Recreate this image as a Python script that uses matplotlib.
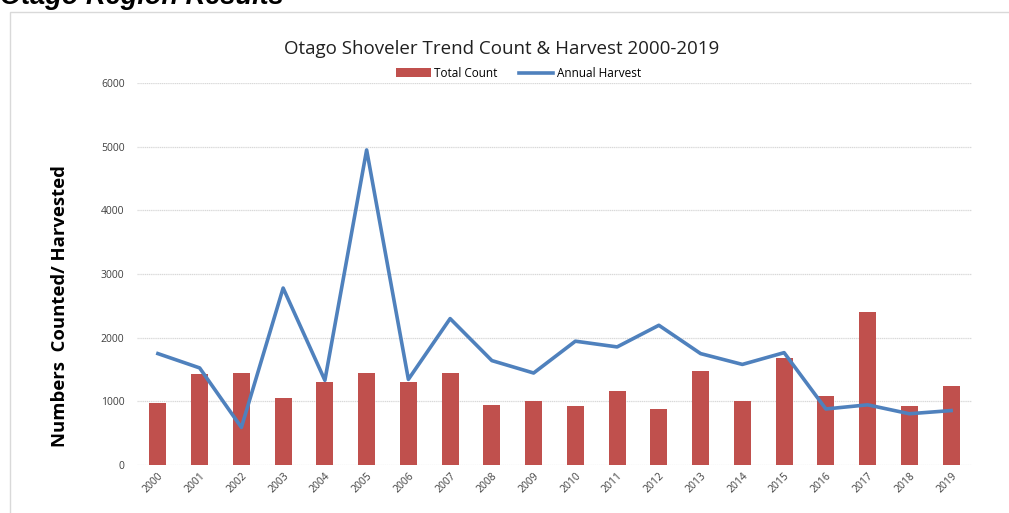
import numpy as np
import matplotlib.pyplot as plt
from matplotlib.patches import Rectangle

years = [str(y) for y in range(2000, 2020)]
total_count = [980, 1430, 1450, 1050, 1300, 1450, 1300, 1450, 940, 1010,
               920, 1170, 880, 1480, 1010, 1680, 1080, 2400, 920, 1245]
annual_harvest = [1750, 1525, 590, 2780, 1330, 4950, 1345, 2300, 1640, 1445,
                  1945, 1855, 2195, 1750, 1580, 1765, 880, 945, 805, 855]

fig = plt.figure(figsize=(10.09, 5.13), dpi=100)
ax = fig.add_axes([0.1358, 0.0936, 0.8275, 0.7444])

# outer frame of the excel chart
fig.patches.append(Rectangle((10 / 1009, -0.1), 1.2, 1 - 12 / 513 + 0.1,
                             transform=fig.transFigure, fill=False,
                             edgecolor='#D9D9D9', linewidth=1.0))
fig.text(0.0, 1.031, 'Otago Region Results', fontsize=19.5, fontweight='bold',
         fontstyle='italic', family='Liberation Sans', va='top', ha='left')

x = np.arange(len(years))
bars = ax.bar(x, total_count, 0.41, color='#C0504D', label='Total Count', zorder=2)
line, = ax.plot(x, annual_harvest, color='#4F81BD', linewidth=2.6,
                label='Annual Harvest', zorder=3)

ax.set_xlim(-0.5, len(years) - 0.5)
ax.set_ylim(0, 6000)
ax.set_yticks(range(0, 6001, 1000))
ax.set_xticks(x)
ax.set_xticklabels(years, rotation=45, ha='right', rotation_mode='anchor',
                   fontsize=7.5, color='#404040', family='Open Sans')
ax.tick_params(axis='y', labelsize=7.5, labelcolor='#404040', length=0, pad=9)
ax.tick_params(axis='x', length=0, pad=4)
for lab in ax.get_yticklabels():
    lab.set_family('Open Sans')
ax.grid(axis='y', color='#D9D9D9', linewidth=0.9, linestyle=(0, (1, 0.5)))
ax.set_axisbelow(True)
for s in ax.spines.values():
    s.set_visible(False)

ax.set_ylabel('Numbers  Counted/ Harvested', fontsize=13.3, fontweight='bold',
              family='Open Sans', labelpad=14)
ax.yaxis.set_label_coords(-0.082, 0.416)
fig.text(0.497, 0.905, 'Otago Shoveler Trend Count & Harvest 2000-2019',
         fontsize=13.5, family='Open Sans', ha='center', va='center', color='#202020')
ax.legend([bars, line], ['Total Count', 'Annual Harvest'], loc='center',
          bbox_to_anchor=(0.457, 1.026), ncol=2, frameon=False,
          handlelength=2.9, columnspacing=1.8, handletextpad=0.3,
          prop={'family': 'Open Sans', 'size': 8.5})

fig.savefig('out.png', dpi=100)
